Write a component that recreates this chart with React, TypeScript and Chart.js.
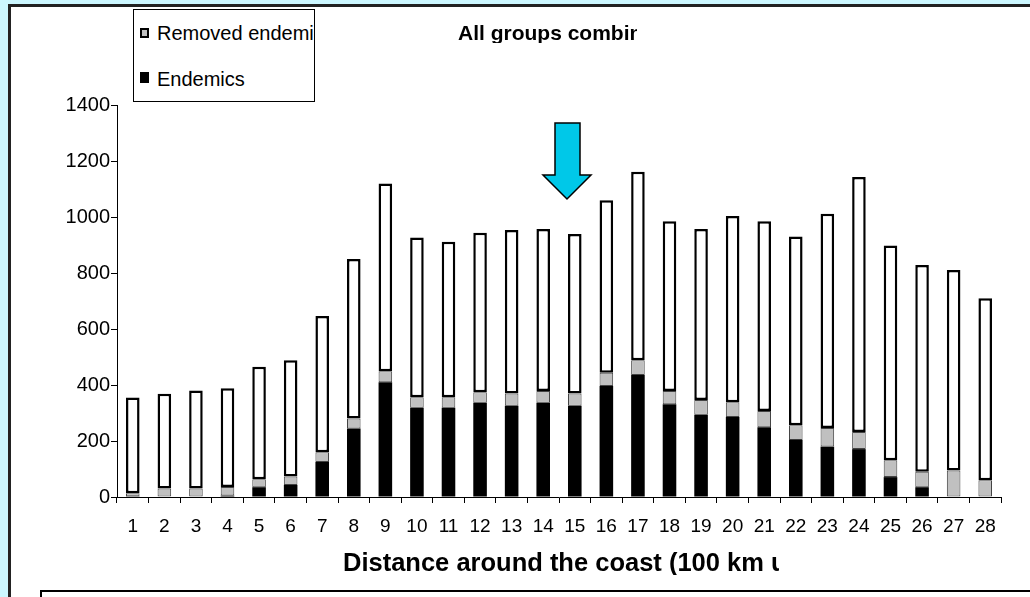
import React, { useEffect, useRef } from "react";
import { Chart, registerables } from "chart.js";

Chart.register(...registerables);

const categories = [
  "1", "2", "3", "4", "5", "6", "7", "8", "9", "10", "11", "12", "13", "14",
  "15", "16", "17", "18", "19", "20", "21", "22", "23", "24", "25", "26", "27", "28",
];

// Endemic species (black, bottom segment)
const endemics = [
  3, 0, 0, 5, 35, 43, 125, 245, 410, 319, 319, 337, 326, 337,
  326, 396, 436, 331, 294, 286, 249, 204, 180, 171, 71, 35, 0, 0,
];

// Removed endemics (grey, middle segment)
const removedEndemics = [
  10, 30, 30, 31, 28, 30, 35, 35, 39, 37, 37, 37, 44, 42,
  44, 48, 52, 48, 52, 52, 58, 52, 66, 61, 60, 55, 95, 60,
];

// Remaining (non-endemic) species (white, top segment)
const otherSpecies = [
  342, 339, 350, 352, 402, 415, 486, 570, 671, 571, 556, 570, 584, 578,
  569, 616, 674, 606, 611, 666, 678, 674, 766, 911, 767, 739, 716, 650,
];

const yTickValues = [0, 200, 400, 600, 800, 1000, 1200, 1400];

const chartTitle = "All groups combined";
const xAxisTitle = "Distance around the coast (100 km units)";
const legendRemoved = "Removed endemics";
const legendEndemics = "Endemics";

const FONT = "'Liberation Sans', Arial, Helvetica, sans-serif";

export default function App() {
  const canvasRef = useRef<HTMLCanvasElement | null>(null);

  useEffect(() => {
    document.body.style.margin = "0";
    const canvas = canvasRef.current;
    if (!canvas) return;
    const chart = new Chart(canvas, {
      type: "bar",
      data: {
        labels: categories,
        datasets: [
          {
            label: legendEndemics,
            data: endemics,
            backgroundColor: "#000000",
            borderColor: "#333333",
            borderWidth: 0,
            stack: "s",
          },
          {
            label: legendRemoved,
            data: removedEndemics,
            backgroundColor: "#C0C0C0",
            borderColor: "#444444",
            borderWidth: 1,
            borderSkipped: false,
            stack: "s",
          },
          {
            label: "Other species",
            data: otherSpecies,
            backgroundColor: "#FFFFFF",
            borderColor: "#000000",
            borderWidth: 2.5,
            borderSkipped: false,
            stack: "s",
          },
        ],
      },
      options: {
        animation: false,
        responsive: true,
        maintainAspectRatio: false,
        datasets: {
          bar: {
            barPercentage: 0.43,
            categoryPercentage: 1,
          },
        },
        layout: { padding: { top: 105, right: 29, left: 0, bottom: 0 } },
        plugins: {
          legend: { display: false },
          title: { display: false },
          tooltip: { enabled: false },
        },
        scales: {
          x: {
            stacked: true,
            offset: true,
            grid: {
              display: true,
              drawOnChartArea: false,
              drawTicks: true,
              tickLength: 6,
              color: "#000000",
              offset: true,
            },
            border: { display: true, color: "#000000", width: 1 },
            ticks: {
              color: "#000000",
              font: { family: FONT, size: 19 },
              padding: 12,
              maxRotation: 0,
              autoSkip: false,
            },
            afterFit: (s: any) => {
              s.height = 100;
            },
          },
          y: {
            stacked: true,
            min: 0,
            max: 1400,
            grid: {
              display: true,
              drawOnChartArea: false,
              drawTicks: true,
              tickLength: 6,
              color: "#000000",
            },
            border: { display: true, color: "#000000", width: 1 },
            ticks: {
              color: "#000000",
              font: { family: FONT, size: 20 },
              padding: 1,
              callback: (v: any) => String(v),
            },
            afterBuildTicks: (s: any) => {
              s.ticks = yTickValues.map((v) => ({ value: v }));
            },
            afterFit: (s: any) => {
              s.width = 117;
            },
          },
        },
      },
    });
    return () => {
      chart.destroy();
    };
  }, []);

  return (
    <div
      style={{
        position: "fixed",
        left: 0,
        top: 0,
        width: 1030,
        height: 597,
        overflow: "hidden",
        background: "#CCF7FF",
        fontFamily: FONT,
      }}
    >
      <div
        style={{
          position: "absolute",
          left: 8,
          top: 4,
          width: 1100,
          height: 700,
          background: "#FFFFFF",
          border: "3px solid #222222",
          boxSizing: "border-box",
        }}
      />
      <div style={{ position: "absolute", left: 0, top: 0, width: 1030, height: 597 }}>
        <canvas ref={canvasRef} />
      </div>
      {/* Title */}
      <div
        style={{
          position: "absolute",
          left: 458,
          top: 22,
          width: 179,
          overflow: "hidden",
          whiteSpace: "nowrap",
          fontWeight: "bold",
          fontSize: 21,
          lineHeight: "21px",
          color: "#000",
        }}
      >
        {chartTitle}
      </div>
      {/* X axis title */}
      <div
        style={{
          position: "absolute",
          left: 343,
          top: 549,
          width: 436,
          overflow: "hidden",
          whiteSpace: "nowrap",
          fontWeight: "bold",
          fontSize: 25.5,
          lineHeight: "26px",
          color: "#000",
        }}
      >
        {xAxisTitle}
      </div>
      {/* Legend */}
      <div
        style={{
          position: "absolute",
          left: 133,
          top: 9,
          width: 182,
          height: 93,
          background: "#FFFFFF",
          border: "1px solid #000",
          boxSizing: "border-box",
          overflow: "hidden",
        }}
      >
        <div
          style={{
            position: "absolute",
            left: 6,
            top: 18,
            width: 9,
            height: 10,
            background: "#C0C0C0",
            border: "2px solid #000",
            boxSizing: "border-box",
          }}
        />
        <div
          style={{
            position: "absolute",
            left: 23,
            top: 13,
            whiteSpace: "nowrap",
            fontSize: 20,
            lineHeight: "20px",
            color: "#000",
          }}
        >
          {legendRemoved}
        </div>
        <div
          style={{
            position: "absolute",
            left: 6,
            top: 62,
            width: 9,
            height: 11,
            background: "#000",
          }}
        />
        <div
          style={{
            position: "absolute",
            left: 23,
            top: 59,
            whiteSpace: "nowrap",
            fontSize: 20,
            lineHeight: "20px",
            color: "#000",
          }}
        >
          {legendEndemics}
        </div>
      </div>
      {/* Arrow annotation */}
      <svg
        width={1030}
        height={597}
        style={{ position: "absolute", left: 0, top: 0, pointerEvents: "none" }}
      >
        <polygon
          points="555,123 580,123 580,175 591,175 567,199 543,175 555,175"
          fill="#00C8E8"
          stroke="#000"
          strokeWidth={1.5}
        />
      </svg>
      {/* Bottom text box (cut off) */}
      <div
        style={{
          position: "absolute",
          left: 40,
          top: 590,
          width: 1100,
          height: 100,
          background: "#FFFFFF",
          border: "2px solid #000",
          boxSizing: "border-box",
        }}
      />
    </div>
  );
}
